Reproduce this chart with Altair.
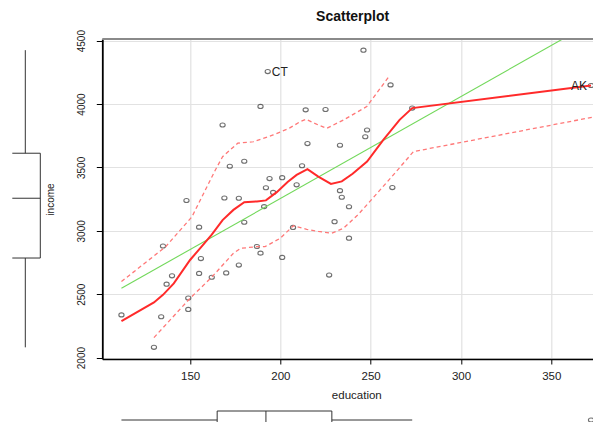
import altair as alt
import pandas as pd

# ---- data (Anscombe) ----
states = ["ME","NH","VT","MA","RI","CT","NY","NJ","PA","OH","IN","IL","MI","WI","MN","IO","MO",
          "ND","SD","NE","KA","DE","MD","DC","VA","WV","NC","SC","GA","FL","KY","TN","AL","MS",
          "AR","LA","OK","TX","MT","ID","WY","CO","NM","AZ","UT","NV","WA","OR","CA","AK","HI"]
education = [189,169,230,168,180,193,261,214,201,172,194,189,233,209,262,234,177,
             177,187,148,196,248,247,246,180,149,155,149,156,191,140,137,112,130,
             134,162,135,155,238,170,238,192,227,207,201,225,215,233,273,372,212]
income = [2824,3259,3072,3835,3549,4256,4151,3954,3419,3509,3412,3981,3675,3363,3341,3265,3257,
          2730,2876,3239,3303,3795,3742,4425,3068,2470,2664,2380,2781,3191,2645,2579,2337,2081,
          2322,2634,2880,3029,2942,2668,3190,3340,2651,3027,2790,3957,3688,3317,3968,4146,3513]

labelled = ["CT", "AK"]

# smoother (solid red)
smooth_x = [112,130,135,141,150,156,162,168,174,180,187,192,198,204,209,215,221,228,234,240,248,257,266,273,372]
smooth_y = [2287,2435,2495,2585,2770,2870,2970,3085,3165,3225,3232,3240,3305,3385,3441,3487,3427,3370,3390,3450,3546,3717,3875,3968,4146]
# spread (dashed)
upper_x = [112,136.5,151,164,168,176.4,185,196,205,211,214.2,221,225.7,235,247.8,260.4]
upper_y = [2600,2875,3110,3480,3585,3691,3703,3756,3810,3861,3880,3835,3809,3875,3980,4222]
lower_x = [130,150,161.7,174,178,187,191.5,199.8,207.2,214.6,221,228.5,234.9,243.2,261.7,273.7,372.8]
lower_y = [2158,2468,2630,2823,2862,2875,2875,2940,3040,3012,2995,2981,3020,3130,3427,3625,3896]

x_ticks = [150, 200, 250, 300, 350]
y_ticks = [2000, 2500, 3000, 3500, 4000, 4500]

X_DOMAIN = [101.4, 373.1]
Y_DOMAIN = [1989, 4513]

df = pd.DataFrame({"state": states, "education": education, "income": income})
smooth = pd.DataFrame({"education": smooth_x, "income": smooth_y})
upper = pd.DataFrame({"education": upper_x, "income": upper_y})
lower = pd.DataFrame({"education": lower_x, "income": lower_y})

xs = alt.Scale(domain=X_DOMAIN, nice=False, zero=False)
ys = alt.Scale(domain=Y_DOMAIN, nice=False, zero=False)

W, H = 490.7, 320

xaxis = alt.Axis(values=x_ticks, title="education", grid=True, gridColor="#e2e2e2", gridWidth=1.2,
                 domainColor="black", domainWidth=1.5, tickColor="black", tickSize=5,
                 labelFontSize=11.5, labelColor="#222", labelPadding=6,
                 titleFontSize=11.5, titleFontWeight="normal", titleColor="#222",
                 titleX=254, titleY=36, titleAlign="center", titleBaseline="middle")
yaxis = alt.Axis(values=y_ticks, format="d", title="income", grid=True, gridColor="#e2e2e2", gridWidth=1.2,
                 domainColor="black", domainWidth=1.8, tickColor="black", tickSize=6,
                 labelAngle=270, labelAlign="center", labelBaseline="bottom", labelPadding=10,
                 labelFontSize=10, labelColor="#222",
                 titleFontSize=10, titleFontWeight="normal", titleColor="#222", titleAngle=270,
                 titleX=-52, titleY=160, titleAlign="center", titleBaseline="middle")

ellipse = "M-1,0A1,0.78,0,1,1,1,0A1,0.78,0,1,1,-1,0Z"

points = alt.Chart(df).mark_point(shape=ellipse, size=27, filled=False, color="#333", strokeWidth=1.1).encode(
    x=alt.X("education:Q", scale=xs, axis=xaxis),
    y=alt.Y("income:Q", scale=ys, axis=yaxis),
)

reg = alt.Chart(df).transform_regression("education", "income").mark_line(
    color="#72d85a", strokeWidth=1.1, clip=True).encode(
    x=alt.X("education:Q", scale=xs), y=alt.Y("income:Q", scale=ys))

up = alt.Chart(upper).mark_line(color="#ff7878", strokeWidth=1.3, strokeDash=[4, 3]).encode(
    x=alt.X("education:Q", scale=xs), y=alt.Y("income:Q", scale=ys))
lo = alt.Chart(lower).mark_line(color="#ff7878", strokeWidth=1.3, strokeDash=[4, 3]).encode(
    x=alt.X("education:Q", scale=xs), y=alt.Y("income:Q", scale=ys))
sm = alt.Chart(smooth).mark_line(color="#ff2a2a", strokeWidth=2).encode(
    x=alt.X("education:Q", scale=xs), y=alt.Y("income:Q", scale=ys))

ct = alt.Chart(df).transform_filter(alt.datum.state == labelled[0]).mark_text(
    align="left", baseline="middle", dx=4, fontSize=12, color="#222").encode(
    x=alt.X("education:Q", scale=xs), y=alt.Y("income:Q", scale=ys), text="state:N")
ak = alt.Chart(df).transform_filter(alt.datum.state == labelled[1]).mark_text(
    align="right", baseline="middle", dx=-4, fontSize=12, color="#222").encode(
    x=alt.X("education:Q", scale=xs), y=alt.Y("income:Q", scale=ys), text="state:N")

BOX = "#333"
# ---- left marginal boxplot (income) ----
inc = alt.Chart(df).transform_joinaggregate(
    q1="q1(income)", q3="q3(income)", med="median(income)"
).transform_calculate(
    lo="datum.q1 - 1.5*(datum.q3 - datum.q1)", hi="datum.q3 + 1.5*(datum.q3 - datum.q1)"
).transform_filter("datum.income >= datum.lo && datum.income <= datum.hi").transform_aggregate(
    wmin="min(income)", wmax="max(income)", q1="max(q1)", q3="max(q3)", med="max(med)")

# top frame line of the plot region
frame = inc.mark_rule(color="#8a8a8a", strokeWidth=1.8).encode(
    x=alt.value(0), x2=alt.value(W), y=alt.value(0))

lb = []
for f in ["q1", "q3", "med"]:
    lb.append(inc.mark_rule(color=BOX, strokeWidth=1).encode(
        x=alt.value(-90), x2=alt.value(-62), y=alt.Y(f + ":Q", scale=ys)))
lb.append(inc.mark_rule(color=BOX, strokeWidth=1).encode(
    x=alt.value(-62), y=alt.Y("q1:Q", scale=ys), y2="q3:Q"))
lb.append(inc.mark_rule(color=BOX, strokeWidth=1).encode(
    x=alt.value(-77), y=alt.Y("q3:Q", scale=ys), y2="wmax:Q"))
lb.append(inc.mark_rule(color=BOX, strokeWidth=1).encode(
    x=alt.value(-77), y=alt.Y("wmin:Q", scale=ys), y2="q1:Q"))

# ---- bottom marginal boxplot (education) ----
edu_base = alt.Chart(df).transform_joinaggregate(
    q1="q1(education)", q3="q3(education)", med="median(education)"
).transform_calculate(
    lo="datum.q1 - 1.5*(datum.q3 - datum.q1)", hi="datum.q3 + 1.5*(datum.q3 - datum.q1)")
edu = edu_base.transform_filter("datum.education >= datum.lo && datum.education <= datum.hi").transform_aggregate(
    wmin="min(education)", wmax="max(education)", q1="max(q1)", q3="max(q3)", med="max(med)")
edu_out = edu_base.transform_filter("datum.education < datum.lo || datum.education > datum.hi")

BT, BW, BB = 372, 381, 396
bb = []
bb.append(edu.mark_rect(fillOpacity=0, stroke=BOX, strokeWidth=1).encode(
    x=alt.X("q1:Q", scale=xs), x2="q3:Q", y=alt.value(BT), y2=alt.value(BB)))
bb.append(edu.mark_rule(color=BOX, strokeWidth=1).encode(
    x=alt.X("med:Q", scale=xs), y=alt.value(BT), y2=alt.value(BB)))
bb.append(edu.mark_rule(color=BOX, strokeWidth=1).encode(
    x=alt.X("wmin:Q", scale=xs), x2="q1:Q", y=alt.value(BW)))
bb.append(edu.mark_rule(color=BOX, strokeWidth=1).encode(
    x=alt.X("q3:Q", scale=xs), x2="wmax:Q", y=alt.value(BW)))
bb.append(edu_out.mark_point(shape=ellipse, size=27, filled=False, color=BOX, strokeWidth=1.1).encode(
    x=alt.X("education:Q", scale=xs), y=alt.value(BW)))

chart = alt.layer(points, reg, up, lo, sm, ct, ak, frame, *lb, *bb).properties(
    width=W, height=H,
    title=alt.TitleParams("Scatterplot", fontSize=14, fontWeight="bold", anchor="middle",
                          dx=5, offset=6, color="#111"),
    autosize=alt.AutoSizeParams(type="none"),
    padding={"left": 94.3, "top": 31, "right": 0, "bottom": 63},
).configure(font="Liberation Sans").configure_view(strokeWidth=0)

chart.save("out.html", embed_options={"renderer": "svg", "actions": False})
